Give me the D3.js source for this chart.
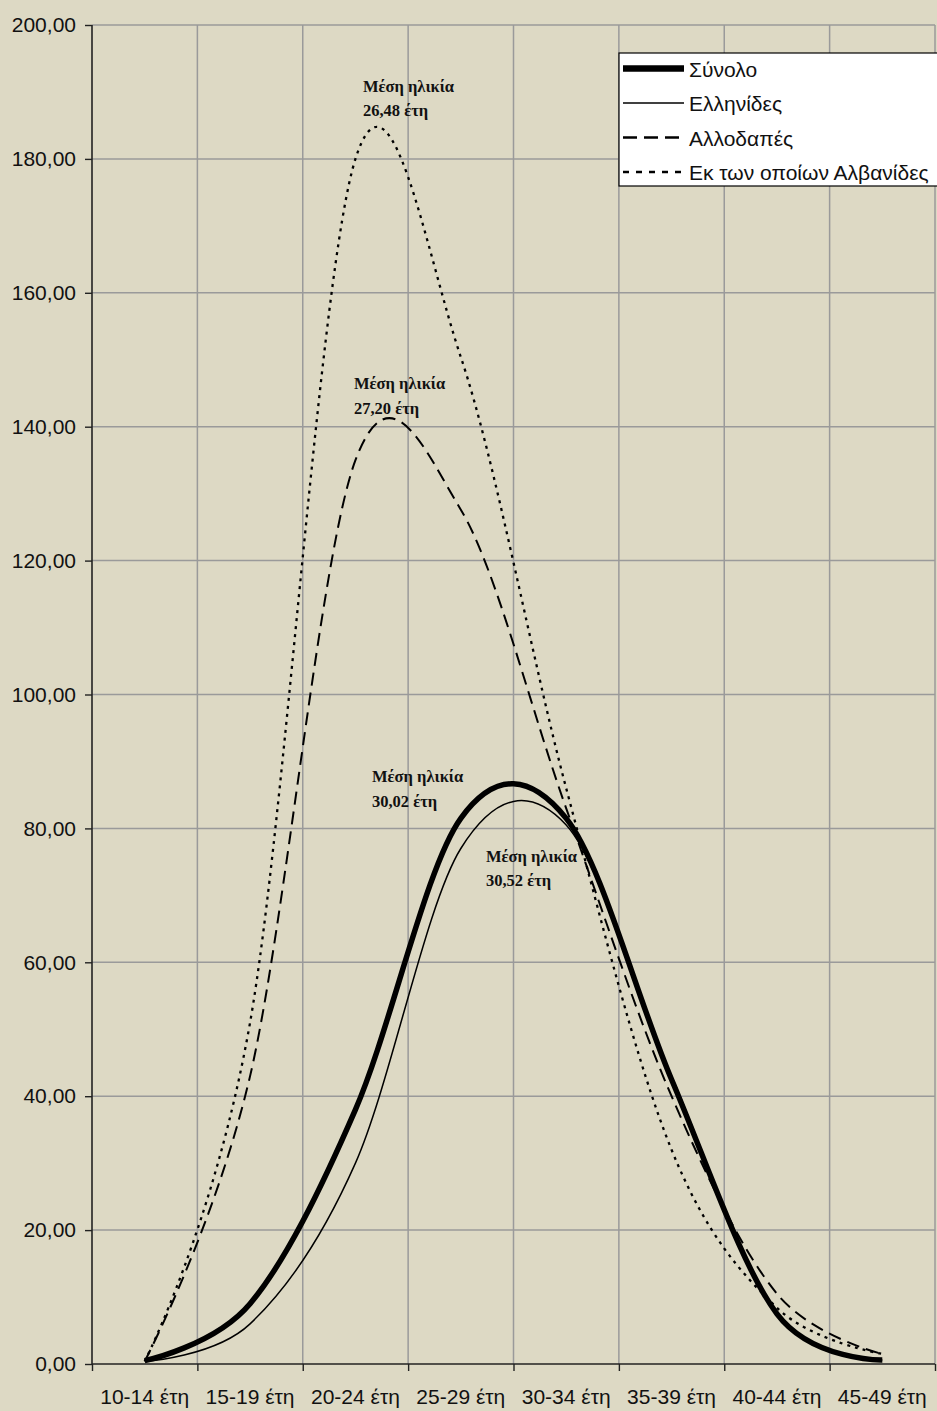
<!DOCTYPE html>
<html>
<head>
<meta charset="utf-8">
<script src="https://cdnjs.cloudflare.com/ajax/libs/d3/7.8.5/d3.min.js"></script>
<style>
  body { margin: 0; background: #ddd9c4; }
  svg { display: block; font-family: "Liberation Sans", Arial, sans-serif; }
  .grid line { stroke: #9a9a9a; stroke-width: 1.5; }
  .axis-label { font-size: 21px; fill: #111; }
  .note { font-family: "Liberation Serif", "Times New Roman", serif; font-weight: bold; font-size: 16.5px; fill: #111; }
</style>
</head>
<body>
<div id="chart"></div>
<script>
// age groups (x categories)
const ageGroups = ["10-14 έτη", "15-19 έτη", "20-24 έτη", "25-29 έτη",
                   "30-34 έτη", "35-39 έτη", "40-44 έτη", "45-49 έτη"];

// fertility rates per age group
const totalRates    = [0.5, 9, 38, 81.5, 81.5, 42.5, 7.5, 0.6];
const greekRates    = [0.4, 6, 30, 77, 80.5, 43, 7.5, 0.6];
const foreignRates  = [0.4, 43, 135, 127.6, 83, 40, 10.5, 1.5];
const albanianRates = [0.4, 51, 180, 150.4, 86, 32, 8.4, 1.5];

const seriesNames = ["Σύνολο", "Ελληνίδες", "Αλλοδαπές", "Εκ των οποίων Αλβανίδες"];
const yTicks = [0, 20, 40, 60, 80, 100, 120, 140, 160, 180, 200];

// mean age notes
const meanAges = ["26,48", "27,20", "30,02", "30,52"];

let vis = {};
vis.margin = {top: 25, right: 2, bottom: 47, left: 92};
vis.width = 937 - vis.margin.left - vis.margin.right;
vis.height = 1411 - vis.margin.top - vis.margin.bottom;

vis.svg = d3.select("#chart").append("svg")
    .attr("width", 937)
    .attr("height", 1411)
    .append("g")
    .attr("transform", "translate(" + vis.margin.left + "," + vis.margin.top + ")");

// Scales
vis.x = d3.scaleBand().domain(ageGroups).range([0, vis.width]);
vis.xPos = d3.scaleLinear().domain([0, ageGroups.length]).range([0, vis.width]);
vis.y = d3.scaleLinear().domain([0, 200]).range([vis.height, 0]);

// Grid
let grid = vis.svg.append("g").attr("class", "grid");
grid.selectAll(".hgrid").data(yTicks.filter(d => d > 0))
    .enter().append("line")
    .attr("x1", 0).attr("x2", vis.width)
    .attr("y1", d => vis.y(d)).attr("y2", d => vis.y(d));
grid.selectAll(".vgrid").data(d3.range(1, ageGroups.length + 1))
    .enter().append("line")
    .attr("x1", d => vis.xPos(d)).attr("x2", d => vis.xPos(d))
    .attr("y1", 0).attr("y2", vis.height);

// Axes
vis.yAxis = d3.axisLeft(vis.y).tickValues(yTicks).tickSize(7).tickPadding(9)
    .tickFormat(d => d3.format(".2f")(d).replace(".", ","));
vis.svg.append("g").attr("class", "y-axis").call(vis.yAxis);

vis.xAxis = d3.axisBottom(vis.xPos).tickValues(d3.range(0, ageGroups.length + 1))
    .tickSize(7).tickFormat("");
vis.svg.append("g").attr("class", "x-axis")
    .attr("transform", "translate(0," + vis.height + ")")
    .call(vis.xAxis);

vis.svg.selectAll(".y-axis text, .x-axis text").attr("class", "axis-label");
vis.svg.selectAll(".y-axis .domain, .x-axis .domain").attr("stroke", "#222").attr("stroke-width", 1.6);
vis.svg.selectAll(".y-axis .tick line, .x-axis .tick line").attr("stroke", "#222").attr("stroke-width", 1.4);
vis.svg.select(".y-axis .domain").attr("d", "M0," + vis.height + "V0");
vis.svg.select(".x-axis .domain").attr("d", "M0,0H" + vis.width);

vis.svg.append("g").selectAll("text").data(ageGroups)
    .enter().append("text")
    .attr("class", "axis-label")
    .attr("x", d => vis.x(d) + vis.x.bandwidth() / 2)
    .attr("y", vis.height + 40)
    .attr("text-anchor", "middle")
    .text(d => d);

// Lines
const styles = [
    {w: 5.5, dash: null,   legendDash: null},
    {w: 1.5, dash: null,   legendDash: null},
    {w: 2,   dash: "13,7", legendDash: "14,7"},
    {w: 2.3, dash: "3,5",  legendDash: "6,7"}
];
const series = [totalRates, greekRates, foreignRates, albanianRates];

vis.line = d3.line()
    .x((d, i) => vis.x(ageGroups[i]) + vis.x.bandwidth() / 2)
    .y(d => vis.y(d))
    .curve(d3.curveCardinal.tension(0));

// draw thin ones first, total on top of the greek line
[3, 2, 1, 0].forEach(i => {
    vis.svg.append("path")
        .datum(series[i])
        .attr("fill", "none")
        .attr("stroke", "#000")
        .attr("stroke-width", styles[i].w)
        .attr("stroke-dasharray", styles[i].dash)
        .attr("d", vis.line);
});

// Mean age notes, anchored in data units
const noteAnchors = [[2.571, 190], [2.486, 145.6], [2.657, 86.9], [3.738, 75]];
meanAges.forEach((m, i) => {
    let t = vis.svg.append("text")
        .attr("class", "note")
        .attr("x", vis.xPos(noteAnchors[i][0]))
        .attr("y", vis.y(noteAnchors[i][1]));
    t.append("tspan").text("Μέση ηλικία");
    t.append("tspan").attr("x", vis.xPos(noteAnchors[i][0])).attr("dy", 24.5).text(m + " έτη");
});

// Legend
let legend = vis.svg.append("g")
    .attr("transform", "translate(" + (619 - vis.margin.left) + "," + (53 - vis.margin.top) + ")");
legend.append("rect")
    .attr("width", 330).attr("height", 133)
    .attr("fill", "#fff").attr("stroke", "#000").attr("stroke-width", 1.2);
seriesNames.forEach((name, i) => {
    let ly = 15.5 + 34.5 * i;
    legend.append("line")
        .attr("x1", 4).attr("x2", 65)
        .attr("y1", ly).attr("y2", ly)
        .attr("stroke", "#000")
        .attr("stroke-width", i == 0 ? 6.5 : (i == 1 ? 1.6 : 2.3))
        .attr("stroke-dasharray", styles[i].legendDash);
    legend.append("text")
        .attr("x", 70).attr("y", ly + 8)
        .attr("font-size", "21px")
        .attr("fill", "#111")
        .text(name);
});
</script>
</body>
</html>
